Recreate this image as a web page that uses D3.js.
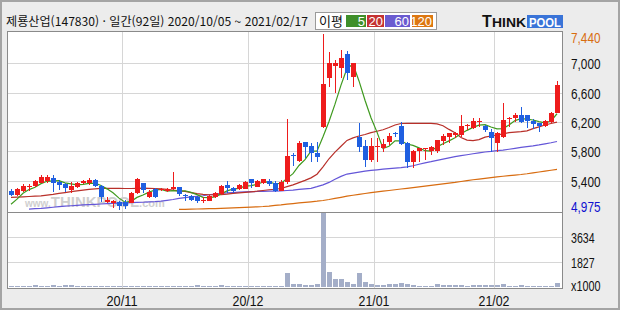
<!DOCTYPE html>
<html lang="ko">
<head>
<meta charset="UTF-8" />
<title>제룡산업 일간 차트</title>
<script src="https://cdn.jsdelivr.net/npm/d3@7"></script>
<style>
  body { margin: 0; background: #ececec; }
  svg { display: block; }
  .num { font-family: "Liberation Sans", Arial, sans-serif; font-size: 14px; }
</style>
</head>
<body>
<svg width="620" height="310"></svg>
<script>
// 일봉 데이터 (92일, 2020/10/05 ~ 2021/02/17)
const open = [5265,5205,5265,5325,5330,5375,5400,5435,5380,5350,5275,5320,5365,5365,5410,5330,5110,5095,5115,5115,
  5100,5230,5365,5185,5285,5275,5255,5295,5310,5210,5195,5175,5130,5125,5185,5220,5345,5305,5290,5295,
  5425,5320,5365,5395,5365,5265,5380,5745,5670,5925,5875,5775,6135,6805,6965,6930,7120,6820,6000,5880,
  5685,5855,5840,5930,6045,6145,5910,5660,5800,5835,5800,5805,5945,6000,6030,6025,6150,6125,6200,6150,
  6070,5920,6000,6240,6250,6295,6295,6215,6185,6140,6205,6330];
const high = [5285,5300,5357,5355,5410,5480,5480,5480,5410,5365,5390,5390,5410,5435,5420,5340,5185,5140,5130,5140,
  5250,5435,5375,5275,5300,5300,5305,5525,5320,5225,5205,5190,5180,5200,5250,5340,5397,5320,5355,5400,
  5430,5405,5430,5420,5397,5410,6240,5775,5940,5930,5910,5925,7395,7160,7045,7180,7165,7010,6183,5955,
  5980,5980,5970,6046,6070,6196,5925,5815,5850,5850,5870,5960,6037,6050,6070,6296,6180,6250,6250,6155,
  6105,6070,6455,6273,6320,6410,6300,6237,6190,6230,6340,6760];
const low = [5195,5195,5252,5265,5320,5365,5375,5250,5280,5250,5230,5300,5355,5345,5320,5115,5095,5025,5000,5010,
  5095,5220,5230,5160,5160,5260,5245,5280,5195,5120,5130,5095,5100,5120,5170,5210,5238,5230,5275,5285,
  5300,5310,5350,5330,5250,5260,5355,5595,5660,5705,5660,5660,6120,6682,6590,6795,6770,6680,5797,5592,
  5660,5660,5797,5888,5995,5888,5570,5570,5660,5680,5750,5775,5888,5910,5980,6001,6092,6100,6136,6070,
  5797,5797,5978,6136,6205,6182,6115,6100,6070,6130,6190,6320];
const close = [5205,5285,5335,5330,5400,5455,5445,5365,5345,5305,5335,5375,5395,5410,5330,5175,5140,5125,5050,5050,
  5230,5425,5275,5250,5185,5285,5295,5320,5215,5195,5140,5130,5140,5195,5240,5330,5305,5265,5345,5390,
  5365,5395,5420,5355,5265,5390,5740,5735,5910,5865,5775,5730,6715,7000,7000,7070,6865,7000,5865,5685,
  5880,5880,5895,6015,6035,5900,5660,5805,5840,5845,5865,5955,6010,6045,6055,6145,6165,6215,6210,6090,
  5980,6045,6230,6250,6295,6205,6220,6170,6140,6215,6330,6710];
// 거래량 (천주)
const volume = [50,50,50,60,120,50,50,110,60,110,110,50,50,50,50,50,50,50,50,50,
  50,50,50,50,50,50,50,50,50,50,50,110,50,50,50,110,50,50,50,50,
  50,50,50,50,50,50,1030,200,200,120,120,200,5340,1100,565,565,370,200,1030,370,
  200,120,120,200,200,270,200,120,50,50,50,200,120,120,120,120,50,120,120,120,
  120,120,200,50,50,120,50,50,50,50,50,270];
// 이동평균선
const ma5 = [5080,5150,5230,5280,5311,5361,5393,5399,5402,5372,5359,5345,5351,5364,5369,5337,5290,5236,5164,5108,
  5119,5174,5206,5246,5274,5284,5258,5267,5260,5264,5242,5211,5175,5171,5182,5221,5262,5287,5297,5327,
  5334,5352,5383,5385,5360,5365,5433,5497,5609,5689,5805,5803,5999,6208,6444,6703,6930,6987,6760,6497,
  6259,6063,5841,5871,5944,5945,5901,5883,5848,5810,5803,5862,5904,5944,5986,6042,6087,6127,6158,6165,
  6132,6108,6111,6161,6220,6246,6240,6228,6206,6190,6215,6313];
const ma20 = [5175,5178,5182,5186,5190,5195,5205,5215,5228,5240,5252,5262,5272,5282,5290,5296,5298,5298,5296,5295,
  5295,5298,5300,5298,5295,5290,5282,5272,5262,5255,5240,5225,5215,5210,5207,5210,5218,5228,5235,5242,
  5250,5258,5268,5278,5285,5295,5320,5345,5375,5405,5440,5490,5590,5700,5790,5870,5950,5985,6010,6030,
  6055,6075,6095,6125,6160,6180,6183,6183,6183,6183,6183,6175,6150,6100,6055,5990,5955,5946,5960,5995,
  6010,6024,6040,6055,6062,6069,6080,6110,6135,6160,6180,6200];
const ma60 = [null,null,null,5015,5020,5025,5032,5040,5047,5054,5060,5066,5071,5076,5080,5084,5088,5092,5096,5099,
  5102,5105,5108,5112,5116,5124,5134,5145,5160,5170,5180,5188,5196,5210,5220,5228,5235,5240,5245,5250,
  5252,5254,5256,5258,5260,5262,5268,5274,5282,5290,5298,5320,5345,5378,5420,5460,5492,5505,5518,5532,
  5542,5550,5558,5565,5572,5580,5590,5605,5625,5645,5660,5678,5695,5712,5728,5742,5755,5768,5780,5792,
  5800,5810,5818,5830,5842,5855,5865,5875,5888,5903,5918,5935];
const ma120 = [null,null,null,null,null,null,null,null,null,null,null,null,null,null,null,null,null,null,null,null,
  null,null,null,null,null,null,null,null,5010,5012,5014,5016,5018,5020,5022,5025,5028,5031,5034,5038,
  5042,5046,5050,5056,5064,5072,5082,5090,5098,5106,5114,5122,5132,5145,5160,5175,5190,5203,5215,5227,
  5238,5248,5258,5268,5278,5288,5298,5308,5318,5328,5338,5348,5358,5368,5378,5390,5402,5414,5424,5434,
  5444,5454,5462,5470,5478,5486,5496,5508,5520,5532,5544,5556];

const monthIdx = [19, 40, 61, 81];
const monthLabels = ["20/11", "20/12", "21/01", "21/02"];
const priceTicks = [7000, 6600, 6200, 5800, 5400];
const priceMax = 7440, priceMin = 4975;
const volTicks = [3634, 1827];
const maNames = ["5", "20", "60", "120"];
const maColors = ["#3f9a1f", "#b8302a", "#6456d8", "#d86c10"];
const legendColors = ["#3f8f2a", "#c43232", "#6a5bd0", "#dd7711"];

const svg = d3.select("svg");
const left = 7, right = 562, pTop = 31, pBot = 212, vBot = 288;

// 바깥 테두리
svg.append("rect").attr("x", 1).attr("y", 1).attr("width", 618).attr("height", 308)
  .attr("fill", "#ececec").attr("stroke", "#a4a4a4").attr("stroke-width", 2);

const x = d3.scaleBand().domain(d3.range(close.length)).range([8, 560]);
const cx = i => x(i) + x.bandwidth() / 2;
const y = d3.scaleLinear().domain([priceMin, priceMax]).range([pBot, pTop]);
const yv = d3.scaleLinear().domain([0, 5434]).range([287, pBot]);

// 패널
svg.append("rect").attr("x", left + 0.5).attr("y", pTop + 0.5).attr("width", right - left)
  .attr("height", pBot - pTop).attr("fill", "#fff");
svg.append("rect").attr("x", left + 0.5).attr("y", pBot + 0.5).attr("width", right - left)
  .attr("height", vBot - pBot).attr("fill", "#fff");

const grid = svg.append("g").attr("stroke", "#d6d6d6").attr("shape-rendering", "crispEdges");
priceTicks.forEach(v => {
  grid.append("line").attr("x1", left).attr("x2", right)
    .attr("y1", Math.round(y(v)) + 0.5).attr("y2", Math.round(y(v)) + 0.5);
});
volTicks.forEach(v => {
  grid.append("line").attr("x1", left).attr("x2", right)
    .attr("y1", Math.round(yv(v)) + 0.5).attr("y2", Math.round(yv(v)) + 0.5);
});
monthIdx.forEach(i => {
  grid.append("line").attr("x1", x(i) + 0.5).attr("x2", x(i) + 0.5)
    .attr("y1", pTop).attr("y2", vBot);
});

// 워터마크
const wm = svg.append("text").attr("x", 25).attr("y", 207)
  .attr("font-family", "Liberation Sans, Arial, sans-serif").attr("font-weight", "bold")
  .attr("fill", "#cfcfcf");
wm.append("tspan").attr("font-size", 10).text("www.");
wm.append("tspan").attr("font-size", 15).text("THINKPOOL");
wm.append("tspan").attr("font-size", 11).text(".com");

// 이동평균선
[ma120, ma60, ma20, ma5].forEach((arr, k) => {
  const line = d3.line().defined(d => d != null).x((d, i) => cx(i)).y(d => y(d));
  svg.append("path").datum(arr).attr("fill", "none")
    .attr("stroke", maColors[3 - k]).attr("stroke-width", 1.2).attr("d", line);
});

// 캔들
const candles = svg.append("g").attr("shape-rendering", "crispEdges")
  .selectAll("g").data(close).join("g")
  .attr("fill", (d, i) => d >= open[i] ? "#ee1c1c" : "#1f5fe0")
  .attr("stroke", (d, i) => d >= open[i] ? "#ee1c1c" : "#1f5fe0");
candles.append("line")
  .attr("x1", (d, i) => cx(i) + 0.5).attr("x2", (d, i) => cx(i) + 0.5)
  .attr("y1", (d, i) => y(high[i])).attr("y2", (d, i) => y(low[i]));
candles.append("rect")
  .attr("stroke", "none")
  .attr("x", (d, i) => cx(i) - 2).attr("width", 5)
  .attr("y", (d, i) => y(Math.max(d, open[i])))
  .attr("height", (d, i) => Math.max(1, Math.abs(y(d) - y(open[i]))));

// 거래량
svg.append("g").attr("fill", "#a4aec8").attr("shape-rendering", "crispEdges")
  .selectAll("rect").data(volume).join("rect")
  .attr("x", (d, i) => cx(i) - 2).attr("width", 5)
  .attr("y", d => yv(d)).attr("height", d => Math.max(1, 287 - yv(d)));

// 패널 테두리
[[pTop, pBot], [pBot, vBot]].forEach(([a, b]) => {
  svg.append("rect").attr("x", left + 0.5).attr("y", a + 0.5).attr("width", right - left)
    .attr("height", b - a).attr("fill", "none").attr("stroke", "#8a8a8a");
});

// 가격 축
const lab = svg.append("g").attr("class", "num");
const fmt = d3.format(",");
const addLab = (txt, yy, color) => {
  lab.append("text").attr("x", 571).attr("y", yy).attr("dy", "0.36em")
    .attr("fill", color).attr("textLength", txt.length * 5.9)
    .attr("lengthAdjust", "spacingAndGlyphs").text(txt);
};
addLab(fmt(priceMax), 38, "#d86c10");
priceTicks.forEach(v => addLab(fmt(v), y(v) + 1, "#111"));
addLab(fmt(priceMin), 207, "#1010d0");
volTicks.forEach(v => addLab(String(v), yv(v) + 1, "#111"));
addLab("x1000", 286, "#111");

// 날짜 축
monthIdx.forEach((i, k) => {
  lab.append("text").attr("x", x(i)).attr("y", 306).attr("text-anchor", "middle")
    .attr("fill", "#111").attr("textLength", 31).attr("lengthAdjust", "spacingAndGlyphs")
    .text(monthLabels[k]);
});

// 제목
svg.append("text").attr("x", 6).attr("y", 26)
  .attr("font-family", "Noto Sans CJK KR, sans-serif").attr("font-size", 12)
  .attr("fill", "#111").attr("textLength", 302).attr("lengthAdjust", "spacingAndGlyphs")
  .text("제룡산업(147830) · 일간(92일) 2020/10/05 ~ 2021/02/17");

// 범례
const lg = svg.append("g");
lg.append("rect").attr("x", 315.5).attr("y", 12.5).attr("width", 121).attr("height", 17)
  .attr("fill", "#fff").attr("stroke", "#9a9a9a");
lg.append("text").attr("x", 319).attr("y", 26).attr("font-family", "Noto Sans CJK KR, sans-serif")
  .attr("font-size", 13).attr("fill", "#111").text("이평");
const boxX = [346, 367, 385, 412];
const boxW = [20, 17, 25, 21];
maNames.forEach((n, k) => {
  lg.append("rect").attr("x", boxX[k]).attr("y", 15).attr("width", boxW[k]).attr("height", 12)
    .attr("fill", legendColors[k]);
  lg.append("text").attr("x", boxX[k] + boxW[k] - 1).attr("y", 26).attr("text-anchor", "end")
    .attr("font-family", "Liberation Sans, Arial, sans-serif").attr("font-size", 13)
    .attr("fill", "#fff").text(n);
});

// 로고
const logo = svg.append("g").attr("font-family", "Liberation Sans, Arial, sans-serif")
  .attr("font-weight", "bold");
logo.append("text").attr("x", 482).attr("y", 27).attr("font-size", 16).attr("fill", "#111").text("T");
logo.append("text").attr("x", 492).attr("y", 27).attr("font-size", 12).attr("fill", "#111")
  .attr("textLength", 34).attr("lengthAdjust", "spacingAndGlyphs").text("HINK");
logo.append("rect").attr("x", 527).attr("y", 15).attr("width", 36).attr("height", 13).attr("fill", "#3a74d8");
logo.append("text").attr("x", 529).attr("y", 27).attr("font-size", 13).attr("fill", "#fff")
  .attr("textLength", 32).attr("lengthAdjust", "spacingAndGlyphs").text("POOL");
</script>
</body>
</html>
